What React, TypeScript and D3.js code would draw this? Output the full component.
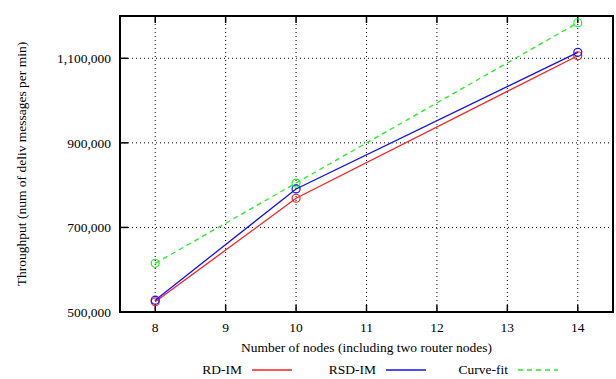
import React, { useEffect, useRef } from 'react';
import * as d3 from 'd3';

const nodes = [8, 10, 14];
const rdIm = [524000, 769000, 1106000];
const rsdIm = [528000, 791000, 1114000];
const curveFit = [615000, 805000, 1184000];
const xTicks = [8, 9, 10, 11, 12, 13, 14];
const yTicks = [500000, 700000, 900000, 1100000];

const series = [
  { name: 'RD-IM', values: rdIm, color: '#ff2020', dash: null as string | null },
  { name: 'RSD-IM', values: rsdIm, color: '#1010ff', dash: null as string | null },
  { name: 'Curve-fit', values: curveFit, color: '#22ee22', dash: '5,4' },
];

const App: React.FC = () => {
  const ref = useRef<SVGSVGElement | null>(null);

  useEffect(() => {
    const svg = d3.select(ref.current);
    svg.selectAll('*').remove();

    const left = 120, right = 613, top = 16, bottom = 312;
    const font = "'Liberation Serif', 'DejaVu Serif', 'Times New Roman', serif";

    const x = d3.scaleLinear().domain([7.5, 14.5]).range([left, right]);
    const y = d3.scaleLinear().domain([500000, 1200000]).range([bottom, top]);
    const fmt = d3.format(',');

    const g = svg.append('g').style('font-family', font);

    // grid
    g.selectAll('.gx').data(xTicks).enter().append('line')
      .attr('x1', d => x(d)).attr('x2', d => x(d))
      .attr('y1', top).attr('y2', bottom)
      .attr('stroke', '#000').attr('stroke-width', 1).attr('stroke-dasharray', '1,3');
    g.selectAll('.gy').data(yTicks.slice(1)).enter().append('line')
      .attr('x1', left).attr('x2', right)
      .attr('y1', d => y(d)).attr('y2', d => y(d))
      .attr('stroke', '#000').attr('stroke-width', 1).attr('stroke-dasharray', '1,3');

    // ticks (inward, mirrored)
    xTicks.forEach(t => {
      g.append('line').attr('x1', x(t)).attr('x2', x(t)).attr('y1', bottom).attr('y2', bottom - 7)
        .attr('stroke', '#000').attr('stroke-width', 1.5);
      g.append('line').attr('x1', x(t)).attr('x2', x(t)).attr('y1', top).attr('y2', top + 7)
        .attr('stroke', '#000').attr('stroke-width', 1.5);
      g.append('text').attr('x', x(t)).attr('y', bottom + 20)
        .attr('text-anchor', 'middle').attr('font-size', 13.5)
        .text(t);
    });
    yTicks.forEach(t => {
      g.append('line').attr('x1', left).attr('x2', left + 8).attr('y1', y(t)).attr('y2', y(t))
        .attr('stroke', '#000').attr('stroke-width', 1.5);
      g.append('text').attr('x', 111).attr('y', y(t) + 5)
        .attr('text-anchor', 'end').attr('font-size', 13.5)
        .text(fmt(t));
    });

    // series
    const line = d3.line<number>().x((_, i) => x(nodes[i])).y(d => y(d));
    series.forEach(s => {
      g.append('path').datum(s.values).attr('d', line)
        .attr('fill', 'none').attr('stroke', s.color).attr('stroke-width', 1.3)
        .attr('stroke-dasharray', s.dash);
      g.selectAll(null).data(s.values).enter().append('circle')
        .attr('cx', (_, i) => x(nodes[i])).attr('cy', d => y(d)).attr('r', 4)
        .attr('fill', 'none').attr('stroke', s.color).attr('stroke-width', 1.2);
    });

    // frame
    g.append('rect').attr('x', left).attr('y', top).attr('width', right - left).attr('height', bottom - top)
      .attr('fill', 'none').attr('stroke', '#000').attr('stroke-width', 2);

    // axis titles
    g.append('text').attr('x', (left + right) / 2).attr('y', 352)
      .attr('text-anchor', 'middle').attr('font-size', 13.5)
      .text('Number of nodes (including two router nodes)');
    g.append('text').attr('transform', `translate(26,${(top + bottom) / 2}) rotate(-90)`)
      .attr('text-anchor', 'middle').attr('font-size', 13.5)
      .text('Throughput (num of deliv messages per min)');

    // legend
    const legendTextEnd = [242, 376, 508];
    series.forEach((s, i) => {
      const tx = legendTextEnd[i];
      g.append('text').attr('x', tx).attr('y', 374)
        .attr('text-anchor', 'end').attr('font-size', 13.5)
        .text(s.name);
      g.append('line').attr('x1', tx + 10).attr('x2', tx + 50).attr('y1', 370).attr('y2', 370)
        .attr('stroke', s.color).attr('stroke-width', 1.3).attr('stroke-dasharray', s.dash);
    });
  }, []);

  return (
    <svg ref={ref} width={616} height={379}
      style={{ position: 'absolute', left: 0, top: 0, display: 'block', background: '#fff' }} />
  );
};

export default App;
